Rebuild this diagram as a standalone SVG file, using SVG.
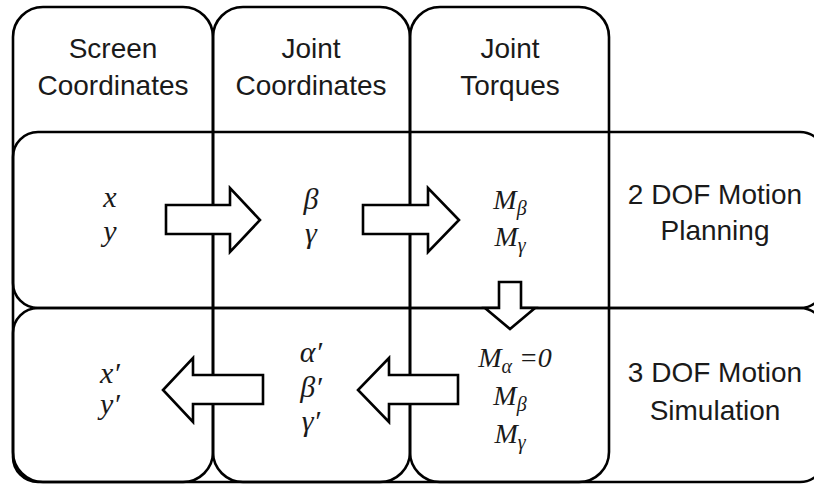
<svg xmlns="http://www.w3.org/2000/svg" width="814" height="484" viewBox="0 0 814 484">
<style>
.box{fill:none;stroke:#000;stroke-width:2.6}
.arr{fill:#fff;stroke:#000;stroke-width:2.6;stroke-linejoin:miter}
.lbl{font-family:"Liberation Sans",Arial,sans-serif;font-size:28px;fill:#1a1a1a;text-anchor:middle}
.m{font-family:"Liberation Serif","Times New Roman",serif;font-style:italic;font-size:28px;fill:#1a1a1a;text-anchor:middle}
.v{font-size:30px}
.s{font-size:20px}
</style>
<rect width="814" height="484" fill="#fff"/>
<g id="col-screen"><rect class="box" x="13" y="7" width="200" height="475" rx="30" ry="30"/>
<text class="lbl" x="113" y="58">Screen</text><text class="lbl" x="113" y="95">Coordinates</text></g>
<g id="col-joint"><rect class="box" x="213" y="7" width="197" height="475" rx="30" ry="30"/>
<text class="lbl" x="311" y="58">Joint</text><text class="lbl" x="311" y="95">Coordinates</text></g>
<g id="col-torque"><rect class="box" x="410" y="7" width="199" height="475" rx="30" ry="30"/>
<text class="lbl" x="510" y="58">Joint</text><text class="lbl" x="510" y="95">Torques</text></g>
<g id="row-planning"><rect class="box" x="13" y="132" width="812" height="176" rx="25" ry="25"/>
<text class="lbl" x="715" y="204">2 DOF Motion</text><text class="lbl" x="715" y="240">Planning</text></g>
<g id="row-simulation"><rect class="box" x="13" y="308" width="812" height="174" rx="25" ry="25"/>
<text class="lbl" x="715" y="382">3 DOF Motion</text><text class="lbl" x="715" y="420">Simulation</text></g>
<g id="cell-xy"><text class="m v" x="110" y="207">x</text><text class="m v" x="110" y="241">y</text></g>
<g id="cell-bg"><text class="m v" x="311" y="209">β</text><text class="m v" x="311" y="243">γ</text></g>
<g id="cell-M2"><text class="m" x="510" y="209">M<tspan class="s" dy="6">β</tspan></text><text class="m" x="510" y="246">M<tspan class="s" dy="6">γ</tspan></text></g>
<g id="cell-xy2"><text class="m v" x="110" y="383">x′</text><text class="m v" x="110" y="414">y′</text></g>
<g id="cell-abg2"><text class="m v" x="311" y="362">α′</text><text class="m v" x="311" y="397">β′</text><text class="m v" x="311" y="431">γ′</text></g>
<g id="cell-M3"><text class="m" x="515" y="367">M<tspan class="s" dy="6">α</tspan><tspan dy="-6"> =0</tspan></text><text class="m" x="510" y="405">M<tspan class="s" dy="6">β</tspan></text><text class="m" x="510" y="443">M<tspan class="s" dy="6">γ</tspan></text></g>
<g id="connectors">
<path class="arr" d="M166,205 H230 V188 L260,220 L230,252 V234 H166 Z"/>
<path class="arr" d="M363,205 H428 V188 L459,220 L428,252 V234 H363 Z"/>
<path class="arr" d="M263,375 H193 V358 L163,390 L193,422 V404 H263 Z"/>
<path class="arr" d="M458,375 H389 V358 L358,390 L389,422 V404 H458 Z"/>
<path class="arr" d="M499,282 H521 V308 H535 L510,329 L485,308 H499 Z"/>
</g>
</svg>
